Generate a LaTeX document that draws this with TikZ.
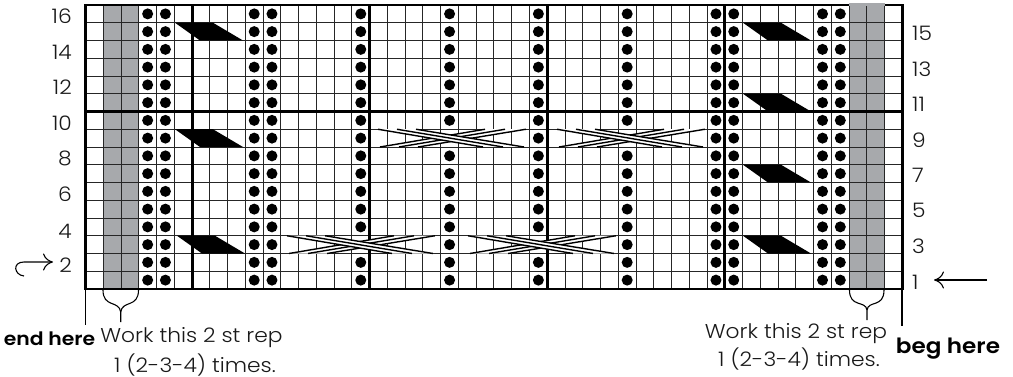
\documentclass[tikz,border=0pt]{standalone}
\usepackage{fontspec}
\newfontfamily\widelight{Poppins Light}[FakeStretch=1.09]
\newfontfamily\widebold{Poppins SemiBold}[FakeStretch=1.1]
\usetikzlibrary{arrows.meta}
\newcommand{\GX}[1]{\fpeval{85.5+17.76*(#1)}}
\newcommand{\SX}[1]{\fpeval{floor(85.5+17.76*(#1))+0.5}}
\newcommand{\SY}[1]{\fpeval{floor(5+17.75*(#1))+0.5}}
\definecolor{chartgray}{HTML}{A7A9AC}
\tikzset{
 x=1pt,y=-1pt,
 thin grid/.style={line width=1.25pt,draw=black!85},
 thick grid/.style={line width=2.6pt,draw=black},
 stitch/.style={circle,fill=black,inner sep=0pt,minimum size=11pt},
 rownum/.style={font=\widelight\fontsize{20}{22}\selectfont,inner sep=0pt,text=black!90},
 note/.style={font=\widelight\fontsize{20}{22}\selectfont,inner sep=0pt,text=black!90,anchor=base},
 leader/.style={line width=1.1pt,draw=black},
 arrowline/.style={line width=1.1pt,draw=black,-{To[length=10pt,width=17pt]}},
}
\begin{document}
\begin{tikzpicture}
\useasboundingbox (0,0) rectangle (1013,377);
\def\H{17.75}
% gray
\fill[chartgray] (\GX{1},5) rectangle (\GX{3},289);
\fill[chartgray] (\GX{43},5) rectangle (\GX{45},289);
% grid
\foreach \r in {1,...,15} \draw[thin grid] (85.5,{\SY{\r}}) -- (902.5,{\SY{\r}});
\foreach \c in {1,...,45} \draw[thin grid] ({\SX{\c}},5) -- ({\SX{\c}},289);
\foreach \c in {6,16,26,36} \draw[line width=2.2pt] ({\SX{\c}},5) -- ({\SX{\c}},289);
\draw[thick grid] (85.5,111.5) -- (902.5,111.5);
\draw[thick grid] (85.5,5) rectangle (902.5,289);
\fill[chartgray] (\GX{43},3.3) rectangle (\GX{45},6.5);
% dots
\foreach \c in {3,4,9,10,15,20,25,30,35,36,41,42}
 \foreach \r in {1,...,16}{
  \pgfmathtruncatemacro{\skipit}{(\r==3 && (\c==15 || \c==25)) || (\r==9 && (\c==20 || \c==30))}
  \ifnum\skipit=0
   \node[stitch] (d\c-\r) at ({\GX{\c+0.5}},{289-\H*(\r-0.5)}) {};
  \fi
 }
% decreases
\foreach \xa/\r in {175/15,175/9,177/3,743/15,743/11,743/7,743/3}{
 \fill[black] (\xa,{289-\H*\r}) -- ++(38,0) -- ++(30,\H) -- ++(-43,0) -- cycle;
}
% cables
\foreach \xa/\r in {287/3,468/3,378/9,557/9}{
 \begin{scope}[shift={(\xa,{289-\H*\r})}]
  \fill[white] (2,\H) -- (42,\H) -- (148,0) -- (107,0) -- cycle;
  \foreach \a/\b in {2/107,21/127,40/148}
   \draw[line width=1.4pt] (\a,\H) -- (\b,0);
  \fill[white] (0,0) -- (38,0) -- (146,\H) -- (105,\H) -- cycle;
  \foreach \a/\b in {0/105,19/125,38/146}
   \draw[line width=1.4pt] (\a,0) -- (\b,\H);
 \end{scope}
}
% row numbers
\foreach \t/\y in {16/16,14/52.5,12/87,10/123,8/158,6/194,4/231,2/265}
 \node[rownum,anchor=east] (l\t) at (72,\y) {\t};
\foreach \t/\y in {15/33,13/69,11/104,9/140,7/175,5/210,3/246,1/282}
 \node[rownum,anchor=west] (r\t) at (912,\y) {\t};
% arrows
\coordinate (a1) at (24,276); \coordinate (a2) at (53,262);
\draw[arrowline] (a1) .. controls (14,275) and (12,262) .. (24,262) -- (a2);
\coordinate (b1) at (987,280); \coordinate (b2) at (934,280);
\draw[arrowline] (b1) -- (b2);
% leaders
\coordinate (t1) at (85.5,289); \coordinate (t1e) at (85.5,325);
\coordinate (t2) at (902,289); \coordinate (t2e) at (902,326);
\draw[leader] (t1) -- (t1e);
\draw[leader] (t2) -- (t2e);
% braces
\draw[leader] (103,290) .. controls (103,308) and (119,300) .. (120.7,312) -- (120.7,322);
\draw[leader] (138.5,290) .. controls (138.5,308) and (122.4,300) .. (120.7,312);
\draw[leader] (849.5,290) .. controls (849.5,308) and (865.5,300) .. (867,310) -- (867,320);
\draw[leader] (884,290) .. controls (884,308) and (868.5,300) .. (867,310);
% texts
\node[inner sep=0pt,anchor=base,font=\widebold\fontsize{18.5}{20}\selectfont] (endhere) at (49.5,345) {end here};
\node[inner sep=0pt,anchor=base,font=\widebold\fontsize{21}{22}\selectfont] (beghere) at (948,353) {beg here};
\node[note] (w1) at (191.5,342) {Work this 2 st rep};
\node[note] (w2) at (195,372) {1 (2-3-4) times.};
\node[note] (w3) at (796,338) {Work this 2 st rep};
\node[note] (w4) at (799,366) {1 (2-3-4) times.};
\end{tikzpicture}
\end{document}
